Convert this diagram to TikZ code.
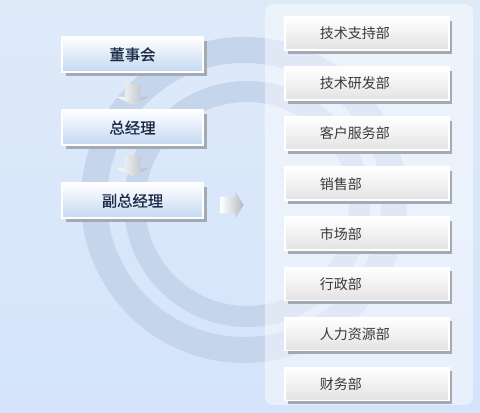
\documentclass[tikz,border=0pt]{standalone}
\usepackage{fontspec}
\usepackage{xcolor}
\usepackage{tikz}
\usetikzlibrary{shapes,arrows,positioning,shadows}
\setmainfont{Noto Sans CJK SC}
\newfontfamily\leadfont[FakeBold=0.7]{Noto Sans CJK SC}

\definecolor{bgtop}{HTML}{DFEAF9}
\definecolor{bgbottom}{HTML}{D4E4FB}
\definecolor{ringblue}{HTML}{C5D5EC}
\definecolor{leadblue}{HTML}{C4D8F2}
\definecolor{leadtext}{HTML}{1B2B48}
\definecolor{depttext}{HTML}{3A3A3A}
\definecolor{deptgray}{HTML}{E3E3E3}
\definecolor{shadowgray}{HTML}{A4AAB3}
\definecolor{arrowgray}{HTML}{B3B8C0}

\begin{document}
\begin{tikzpicture}[
    x=0.75pt, y=-0.75pt,
    node distance=27.4pt,
    leader/.style={rectangle, draw=white, line width=1.2pt, top color=white, bottom color=leadblue,
        minimum width=105.75pt, minimum height=26.25pt, inner sep=0pt,
        font=\leadfont\fontsize{11.5}{13}\selectfont, text=leadtext,
        drop shadow={shadow xshift=3pt, shadow yshift=-3pt, fill=shadowgray, opacity=1}},
    dept/.style={rectangle, draw=white, line width=1.2pt, top color=white, bottom color=deptgray,
        text width=70.5pt, align=left, inner xsep=26.25pt, inner ysep=0pt, minimum height=24.75pt,
        font=\fontsize{10.5}{12}\selectfont, text=depttext,
        drop shadow={shadow xshift=2.5pt, shadow yshift=-3pt, fill=shadowgray, opacity=1}},
    downarrow/.style={single arrow, rotate=-90, draw=none, inner xsep=0pt, inner ysep=5.6pt,
        minimum height=15.75pt, single arrow head extend=6pt,
        single arrow tip angle=125, left color=white, right color=arrowgray},
    rightarrow/.style={single arrow, draw=none, inner xsep=0pt, inner ysep=6pt,
        minimum height=17.25pt, single arrow head extend=3.75pt,
        single arrow tip angle=115, left color=white, right color=arrowgray}
]
\useasboundingbox (0,0) rectangle (480,413);

% background and rings
\shade[top color=bgtop, bottom color=bgbottom] (0,0) rectangle (480,413);
\fill[ringblue, even odd rule] (244,200) circle[radius=163] (244,200) circle[radius=137];
\fill[ringblue, even odd rule] (247,204) circle[radius=123] (247,204) circle[radius=102];
\fill[white, opacity=0.46, rounded corners=6pt] (265,4) rectangle (473,405);

% management
\node[leader] (board) at (132.5,54.5) {董事会};
\node[leader, below=of board] (gm) {总经理};
\node[leader, below=of gm] (vgm) {副总经理};

\node[downarrow] (ar1) at (132.5,92.5) {};
\node[downarrow] (ar2) at (132.5,164) {};
\node[rightarrow] (ar3) at (229.5,205) {};

% departments
\begin{scope}[node distance=11.6pt]
\node[dept] (support) at (367,33.5) {技术支持部};
\node[dept, below=of support] (rnd) {技术研发部};
\node[dept, below=of rnd] (service) {客户服务部};
\node[dept, below=of service] (sales) {销售部};
\node[dept, below=of sales] (market) {市场部};
\node[dept, below=of market] (admin) {行政部};
\node[dept, below=of admin] (hr) {人力资源部};
\node[dept, below=of hr] (finance) {财务部};
\end{scope}
\end{tikzpicture}
\end{document}
